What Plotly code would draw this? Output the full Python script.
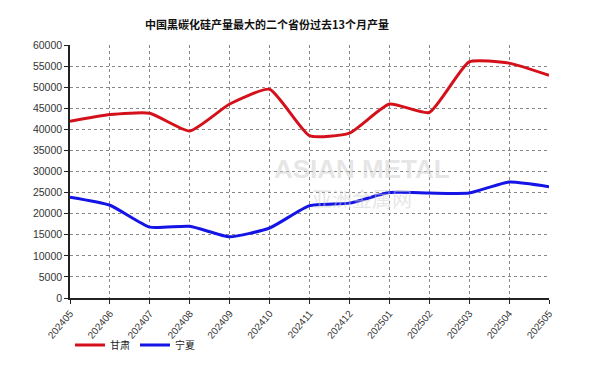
import plotly.graph_objects as go

months = ["202405", "202406", "202407", "202408", "202409", "202410", "202411",
          "202412", "202501", "202502", "202503", "202504", "202505"]
gansu = [41900, 43500, 43800, 39600, 46000, 49500, 38500, 39100, 46000, 44000, 56000, 55700, 52800]
ningxia = [23900, 22000, 16800, 17000, 14500, 16600, 21900, 22500, 25000, 24900, 24900, 27500, 26400]
y_ticks = list(range(0, 60001, 5000))
title = "中国黑碳化硅产量最大的二个省份过去13个月产量"

fig = go.Figure()
fig.add_trace(go.Scatter(x=months, y=gansu, name="甘肃", mode="lines",
                         line=dict(color="#d4111b", width=3, shape="spline", smoothing=0.5)))
fig.add_trace(go.Scatter(x=months, y=ningxia, name="宁夏", mode="lines",
                         line=dict(color="#1414e6", width=3, shape="spline", smoothing=0.5)))

fig.update_layout(
    width=596, height=371,
    margin=dict(l=62, r=55, t=37, b=81, autoexpand=False),
    paper_bgcolor="white", plot_bgcolor="white",
    font=dict(family="Liberation Sans, Arial, Noto Sans CJK SC", size=10, color="#333"),
    title=dict(text=title, x=259/596, xanchor="center", y=1 - 17/371, yanchor="middle",
               font=dict(family="Noto Sans CJK SC", size=11, color="#111", weight="bold")),
    showlegend=True,
    legend=dict(orientation="h", x=0.0, xanchor="left", y=-0.186, yanchor="middle",
                font=dict(family="Noto Sans CJK SC", size=10, color="#222"),
                itemwidth=30, bgcolor="rgba(0,0,0,0)"),
    annotations=[
        dict(text="ASIAN METAL", xref="paper", yref="paper", x=0.61, y=0.51,
             showarrow=False, font=dict(family="Liberation Sans", size=26, color="rgba(205,205,205,0.5)", weight="bold")),
        dict(text="亚洲金属网", xref="paper", yref="paper", x=0.61, y=0.395,
             showarrow=False, font=dict(family="Noto Sans CJK SC", size=20, color="rgba(205,205,205,0.5)")),
    ],
)
fig.update_xaxes(
    type="category", range=[0, len(months) - 1], automargin=False,
    showgrid=True, gridcolor="#888", griddash="dot", gridwidth=1,
    showline=True, linecolor="#222", linewidth=1.5,
    ticks="outside", ticklen=4, tickcolor="#222",
    tickangle=-50, tickfont=dict(size=10, color="#333"),
)
fig.update_yaxes(
    range=[0, 60000], tickvals=y_ticks, tickformat="d", automargin=False,
    showgrid=True, gridcolor="#888", griddash="dot", gridwidth=1,
    showline=True, linecolor="#222", linewidth=1.5,
    ticks="outside", ticklen=4, tickcolor="#222",
    tickfont=dict(size=10.5, color="#333"), zeroline=False,
)
fig.write_html("out.html")
